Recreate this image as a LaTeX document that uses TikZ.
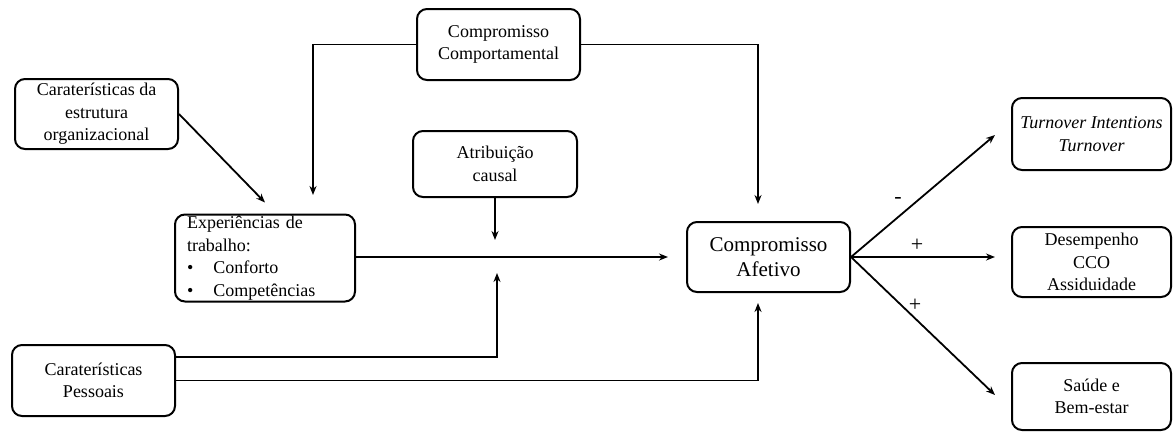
\documentclass[tikz,border=0pt]{standalone}
\usepackage{fontspec}
\setmainfont{Liberation Serif}
\usetikzlibrary{arrows.meta}

\begin{document}
\begin{tikzpicture}
  [x=1pt,y=-1pt,
   caixa/.style={draw,rounded corners=10pt,line width=2pt,align=center,
     font=\fontsize{18}{22.5}\selectfont,minimum width=163pt,minimum height=70pt,inner sep=2pt},
   seta/.style={line width=1.8pt,-{Stealth[length=9pt,width=7pt]}},
   sinal/.style={font=\fontsize{22}{24}\selectfont,inner sep=0pt}]
  \useasboundingbox (0,0) rectangle (1173,432);

  \node[caixa] (org) at (96.5,114) {Caraterísticas da\\estrutura\\organizacional};
  \node[caixa,minimum height=71pt] (comport) at (498.5,44.5) {Compromisso\\Comportamental};
  \node[caixa,minimum width=164pt,minimum height=66pt] (atrib) at (495,164) {Atribuição\\causal};
  \node[caixa,minimum width=180pt,minimum height=87pt,align=left,inner ysep=0pt,
    text width=156pt] (exper) at (265,258)
    {Experiências de\\trabalho:\\\textbullet\hspace{20pt}Conforto\\\textbullet\hspace{20pt}Competências};
  \node[caixa,minimum height=71pt] (pessoais) at (93.5,380.5) {Caraterísticas\\Pessoais};
  \node[caixa,font=\fontsize{21}{25}\selectfont] (afetivo) at (768.5,257) {Compromisso\\Afetivo};
  \node[caixa,minimum width=159pt,minimum height=72pt,font=\itshape\fontsize{18}{22.5}\selectfont]
    (turnover) at (1091.5,134) {Turnover Intentions\\Turnover};
  \node[caixa,minimum width=159pt] (desemp) at (1091.5,262) {Desempenho\\CCO\\Assiduidade};
  \node[caixa,minimum width=159pt,minimum height=67pt] (saude) at (1091.5,396.5) {Saúde e\\Bem-estar};

  \coordinate (c1) at (313,195);
  \coordinate (c2) at (758,204);
  \coordinate (c3) at (495,240);
  \coordinate (c4) at (497,273);
  \coordinate (c5) at (758,303);
  \coordinate (t1) at (995,135);
  \coordinate (t2) at (995,257);
  \coordinate (t3) at (995,395);

  \draw[seta] (org.east) -- ([yshift=11pt]exper.north);
  \draw[seta] (comport.west) -| (c1);
  \draw[seta] (comport.east) -| (c2);
  \draw[seta] (atrib.south) -- (c3);
  \draw[seta] (exper.east |- afetivo.west) -- ([xshift=-18pt]afetivo.west);
  \draw[seta] ([yshift=23.5pt]pessoais.east) -| (c4);
  \draw[seta] (pessoais.east) -| (c5);

  \draw[seta] (afetivo.east) -- (t1);
  \draw[seta] (afetivo.east) -- (t2);
  \draw[seta] (afetivo.east) -- (t3);

  \node[sinal] (s1) at (898,200) {-};
  \node[sinal] (s2) at (917,245) {+};
  \node[sinal] (s3) at (915,305) {+};
\end{tikzpicture}
\end{document}
